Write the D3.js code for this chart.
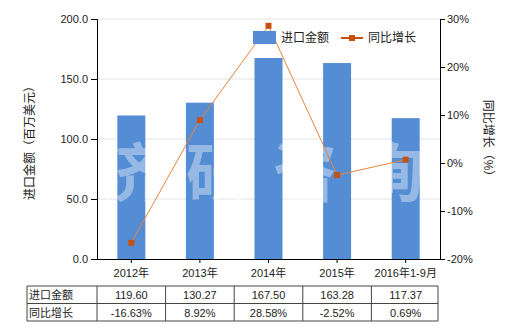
<!DOCTYPE html>
<html>
<head>
<meta charset="utf-8">
<script src="https://cdn.jsdelivr.net/npm/d3@7"></script>
<style>
  body { margin: 0; background: #fff; }
  svg { font-family: "Liberation Sans", "Noto Sans CJK SC", sans-serif; }
</style>
</head>
<body>
<div id="chart"></div>
<script>
var categories = ["2012年", "2013年", "2014年", "2015年", "2016年1-9月"];
var amounts = [119.60, 130.27, 167.50, 163.28, 117.37];
var growth = [-16.63, 8.92, 28.58, -2.52, 0.69];
var amountLabels = ["119.60", "130.27", "167.50", "163.28", "117.37"];
var growthLabels = ["-16.63%", "8.92%", "28.58%", "-2.52%", "0.69%"];
var leftTicks = [0, 50, 100, 150, 200];
var rightTicks = [-20, -10, 0, 10, 20, 30];
var seriesNames = ["进口金额", "同比增长"];

var W = 520, H = 330;
var plotLeft = 97, plotRight = 440, plotTop = 19, plotBottom = 259;
var barColor = "#548dd4", lineColor = "#e8843c", markColor = "#c5500f";

var svg = d3.select("#chart").append("svg")
  .attr("width", W).attr("height", H);

var xc = d3.scaleBand().domain(categories).range([plotLeft, plotRight]);
var y = d3.scaleLinear().domain([0, 200]).range([plotBottom, plotTop]);
var y2 = d3.scaleLinear().domain([-20, 30]).range([plotBottom, plotTop]);
var cx = function(i) { return xc(categories[i]) + xc.bandwidth() / 2; };

// grid
svg.append("g").selectAll("line").data(leftTicks.slice(1)).enter().append("line")
  .attr("x1", plotLeft).attr("x2", plotRight)
  .attr("y1", function(d) { return y(d); }).attr("y2", function(d) { return y(d); })
  .attr("stroke", "#e2e2e2");

// bars
svg.append("g").selectAll("rect").data(amounts).enter().append("rect")
  .attr("x", function(d, i) { return cx(i) - 14; })
  .attr("width", 28)
  .attr("y", function(d) { return y(d); })
  .attr("height", function(d) { return plotBottom - y(d); })
  .attr("fill", barColor);

// watermark
svg.append("text")
  .attr("x", 99).attr("y", 196)
  .attr("font-size", 64).attr("font-weight", "bold")
  .attr("letter-spacing", 23)
  .attr("font-family", "Noto Sans CJK SC")
  .attr("fill", "#fff").attr("fill-opacity", 0.38)
  .text("济研咨询");

// line
svg.append("path")
  .datum(growth)
  .attr("d", d3.line().x(function(d, i) { return cx(i); }).y(function(d) { return y2(d); }))
  .attr("fill", "none").attr("stroke", lineColor).attr("stroke-width", 1);
svg.append("g").selectAll("rect").data(growth).enter().append("rect")
  .attr("x", function(d, i) { return cx(i) - 3; })
  .attr("y", function(d) { return y2(d) - 3; })
  .attr("width", 6).attr("height", 6)
  .attr("fill", markColor);

// axes
var gl = svg.append("g").attr("transform", "translate(" + plotLeft + ",0)")
  .call(d3.axisLeft(y).tickValues(leftTicks).tickFormat(d3.format(".1f")).tickSize(6).tickPadding(3));
var gr = svg.append("g").attr("transform", "translate(" + plotRight + ",0)")
  .call(d3.axisRight(y2).tickValues(rightTicks).tickFormat(function(d) { return d + "%"; }).tickSize(5).tickPadding(2));
var gb = svg.append("g").attr("transform", "translate(0," + plotBottom + ")")
  .call(d3.axisBottom(xc).tickSize(4).tickSizeOuter(0).tickPadding(6));
[gl, gr, gb].forEach(function(g) {
  g.selectAll("path").attr("stroke", "#000");
  g.selectAll("line").attr("stroke", "#000");
  g.selectAll("text").attr("font-size", 11).attr("fill", "#222")
    .attr("font-family", "Liberation Sans, Noto Sans CJK SC");
});

// axis titles
svg.append("text")
  .attr("transform", "translate(34,140) rotate(-90)")
  .attr("text-anchor", "middle").attr("font-size", 12).attr("fill", "#222")
  .text("进口金额（百万美元）");
svg.append("text")
  .attr("transform", "translate(484,141) rotate(90)")
  .attr("text-anchor", "middle").attr("font-size", 12).attr("fill", "#222")
  .text("同比增长（%）");

// legend
var lg = svg.append("g");
lg.append("rect").attr("x", 253).attr("y", 31).attr("width", 23).attr("height", 13).attr("fill", barColor);
lg.append("text").attr("x", 281).attr("y", 42).attr("font-size", 12).attr("fill", "#222").text(seriesNames[0]);
lg.append("line").attr("x1", 341).attr("x2", 363).attr("y1", 38).attr("y2", 38)
  .attr("stroke", markColor).attr("stroke-width", 2);
lg.append("rect").attr("x", 349).attr("y", 35).attr("width", 6).attr("height", 6).attr("fill", markColor);
lg.append("text").attr("x", 368).attr("y", 42).attr("font-size", 12).attr("fill", "#222").text(seriesNames[1]);

// table
var tLeft = 27, tTop = 286, rowH = 17.5;
var rows = [amountLabels, growthLabels];
var tbl = svg.append("g");
var colEdges = [tLeft].concat(categories.map(function(c) { return xc(c); })).concat([plotRight - 2]);
colEdges.forEach(function(ex) {
  tbl.append("line").attr("x1", ex).attr("x2", ex).attr("y1", tTop).attr("y2", tTop + 2 * rowH)
    .attr("stroke", "#444");
});
[0, 1, 2].forEach(function(r) {
  tbl.append("line").attr("x1", tLeft).attr("x2", plotRight - 2)
    .attr("y1", tTop + r * rowH).attr("y2", tTop + r * rowH).attr("stroke", "#444");
});
rows.forEach(function(row, r) {
  tbl.append("text").attr("x", tLeft + 2).attr("y", tTop + r * rowH + 13)
    .attr("font-size", 11).attr("fill", "#222").text(seriesNames[r]);
  row.forEach(function(v, i) {
    tbl.append("text").attr("x", cx(i)).attr("y", tTop + r * rowH + 13)
      .attr("text-anchor", "middle").attr("font-size", 11).attr("fill", "#222").text(v);
  });
});
</script>
</body>
</html>
